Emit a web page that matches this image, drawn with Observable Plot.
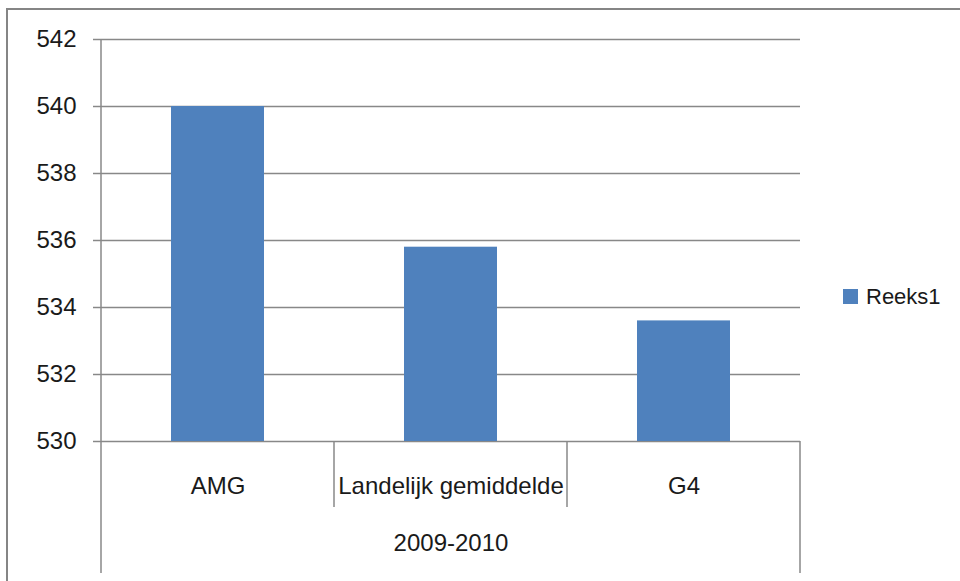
<!DOCTYPE html>
<html>
<head>
<meta charset="utf-8">
<script src="https://cdn.jsdelivr.net/npm/d3@7"></script>
<script src="https://cdn.jsdelivr.net/npm/@observablehq/plot@0.6"></script>
<style>
  html, body { margin: 0; padding: 0; background: #fff; }
  #wrap { position: relative; width: 960px; height: 581px; overflow: hidden; background: #fff; }
  #border { position: absolute; left: 6px; top: 8px; width: 2000px; height: 2000px;
            border-top: 2px solid #858585; border-left: 2px solid #858585; box-sizing: border-box; }
  #chart { position: absolute; left: 0; top: 0; }
  #legend { position: absolute; left: 843px; top: 280px; }
  #legend div, #legend span { font-family: "Liberation Sans", Arial, sans-serif !important; font-size: 22px !important; color: #1a1a1a !important; }
  #legend svg { margin-right: 8px !important; }
</style>
</head>
<body>
<div id="wrap">
  <div id="border"></div>
  <div id="chart"></div>
  <div id="legend"></div>
</div>
<script>
const categories = ["AMG", "Landelijk gemiddelde", "G4"];
const values = [540, 535.8, 533.6];
const seriesName = "Reeks1";
const groupLabel = "2009-2010";
const yTicks = [530, 532, 534, 536, 538, 540, 542];

const BAR = "#4F81BD";
const GRID = "#888888";

const data = categories.map((c, i) => ({cat: c, value: values[i]}));

// category separators of the multi-level axis, derived from Plot's scales
const separators = (index, scales, vals, dims) => {
  const {x, y} = scales;
  const g = d3.create("svg:g").attr("stroke", GRID).attr("stroke-width", 1.5);
  const bw = x.bandwidth();
  const edges = [...categories.map(c => x(c)), x(categories[categories.length - 1]) + bw];
  const base = y(yTicks[0]);
  const top = y(yTicks[yTicks.length - 1]);
  edges.forEach((e, i) => {
    const outer = i === 0 || i === edges.length - 1;
    g.append("line")
      .attr("x1", e).attr("x2", e)
      .attr("y1", i === 0 ? top : base)
      .attr("y2", outer ? dims.height - 8 : base + 66);
  });
  return g.node();
};

const chart = Plot.plot({
  width: 960,
  height: 581,
  marginLeft: 101,
  marginRight: 160,
  marginTop: 39,
  marginBottom: 140,
  style: {fontFamily: "'Liberation Sans', Arial, sans-serif", fontSize: "24px", color: "#1a1a1a", background: "transparent"},
  x: {domain: categories, padding: 0, label: null},
  y: {domain: [yTicks[0], yTicks[yTicks.length - 1]], label: null},
  marks: [
    Plot.gridY(yTicks, {stroke: GRID, strokeOpacity: 1, strokeWidth: 1.5}),
    Plot.axisY(yTicks, {tickSize: 8, tickPadding: 17, stroke: GRID, strokeOpacity: 1, strokeWidth: 1.5, fontSize: 24, label: null}),
    Plot.axisX({tickSize: 0, tickPadding: 35, fontSize: 24, label: null}),
    Plot.barY(data, {x: "cat", y1: yTicks[0], y2: "value", fill: BAR, insetLeft: 70, insetRight: 70}),
    separators,
    Plot.text([groupLabel], {frameAnchor: "bottom", dy: 109, fontSize: 24, fill: "#1a1a1a"})
  ]
});
document.getElementById("chart").appendChild(chart);

const legend = Plot.legend({
  legend: "swatches",
  color: {type: "ordinal", domain: [seriesName], range: [BAR]},
  swatchSize: 15
});
document.getElementById("legend").appendChild(legend);
</script>
</body>
</html>
